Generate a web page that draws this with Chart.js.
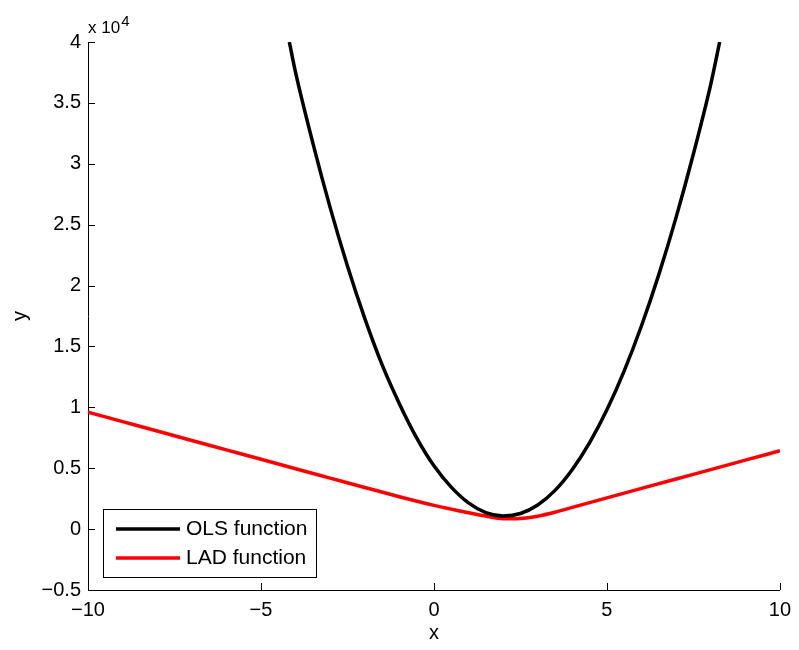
<!DOCTYPE html>
<html>
<head>
<meta charset="utf-8">
<title>OLS vs LAD</title>
<script src="https://cdn.jsdelivr.net/npm/chart.js@4/dist/chart.umd.min.js"></script>
<style>
    body { margin: 0; background: #fff; }
    #wrap { width: 799px; height: 650px; }
</style>
</head>
<body>
<div id="wrap"><canvas id="lossChart" width="799" height="650"></canvas></div>
<script>
// loss curves over the candidate estimate x
const olsX = [-4.18, -4, -3.5, -3, -2.5, -2, -1.5, -1, -0.5, 0, 0.5, 1, 1.5, 2, 2.5, 3, 3.5, 4, 4.5, 5, 5.5, 6, 6.5, 7, 7.5, 8, 8.26];
const olsY = [40000, 37500, 31700, 26400, 21600, 17300, 13500, 10300, 7500, 5200, 3450, 2150, 1350, 1080, 1280, 1980, 3180, 4900, 7100, 9800, 13000, 16700, 20900, 25600, 30800, 36500, 40000];

const ladX = [-10, -9, -8, -7, -6, -5, -4, -3, -2, -1, 0, 0.5, 1, 1.5, 2, 2.5, 3, 3.5, 4, 5, 6, 7, 8, 9, 10];
const ladY = [9600, 8830, 8060, 7280, 6510, 5740, 4960, 4190, 3420, 2660, 1950, 1640, 1340, 1070, 850, 880, 1060, 1380, 1780, 2570, 3350, 4120, 4880, 5660, 6430];

const xTicks = [-10, -5, 0, 5, 10];
const yTicks = [-5000, 0, 5000, 10000, 15000, 20000, 25000, 30000, 35000, 40000];

const FONT = '"Liberation Sans", Arial, Helvetica, sans-serif';
const FSIZE = 20;

function toPoints(xs, ys) {
    return xs.map(function (x, i) { return {x: x, y: ys[i]}; });
}

function tickText(v) {
    let s = String(v);
    return s.replace('-', '\u2212');
}

// inward ticks, exponent note, axis names and the legend box
const decorations = {
    id: 'decorations',
    afterDraw: function (chart) {
        const ctx = chart.ctx;
        const area = chart.chartArea;
        const xs = chart.scales.x, ys = chart.scales.y;
        ctx.save();
        ctx.strokeStyle = '#000';
        ctx.lineWidth = 1;
        ctx.beginPath();
        xTicks.forEach(function (t) {
            const px = Math.round(xs.getPixelForValue(t)) + 0.5;
            ctx.moveTo(px, area.bottom);
            ctx.lineTo(px, area.bottom - 7);
        });
        yTicks.forEach(function (t) {
            const py = Math.round(ys.getPixelForValue(t)) + 0.5;
            ctx.moveTo(area.left, py);
            ctx.lineTo(area.left + 7, py);
        });
        ctx.stroke();

        // "x 10^4" multiplier above the y axis
        ctx.fillStyle = '#000';
        ctx.font = '17px ' + FONT;
        ctx.textAlign = 'left';
        ctx.textBaseline = 'alphabetic';
        ctx.fillText('x 10', 88, 33);
        const w = ctx.measureText('x 10').width;
        ctx.font = '15px ' + FONT;
        ctx.fillText('4', 88 + w + 1, 26);

        ctx.font = FSIZE + 'px ' + FONT;
        ctx.textAlign = 'center';
        ctx.textBaseline = 'middle';
        ctx.fillText('x', (area.left + area.right) / 2, 633);
        ctx.save();
        ctx.translate(20, (area.top + area.bottom) / 2);
        ctx.rotate(-Math.PI / 2);
        ctx.fillText('y', 0, 0);
        ctx.restore();

        // legend
        ctx.fillStyle = '#fff';
        ctx.fillRect(103, 509, 213, 68);
        ctx.strokeStyle = '#000';
        ctx.lineWidth = 1;
        ctx.strokeRect(103.5, 509.5, 213, 68);
        ctx.font = '21px ' + FONT;
        const rows = [['OLS function', '#000', 529], ['LAD function', '#ff0000', 558]];
        rows.forEach(function (r) {
            ctx.strokeStyle = r[1];
            ctx.lineWidth = 3.5;
            ctx.beginPath();
            ctx.moveTo(116, r[2]);
            ctx.lineTo(180, r[2]);
            ctx.stroke();
            ctx.fillStyle = '#000';
            ctx.textAlign = 'left';
            ctx.fillText(r[0], 186, r[2]);
        });
        ctx.restore();
    }
};

new Chart(document.getElementById('lossChart'), {
    type: 'scatter',
    data: {
        datasets: [
            {
                label: 'OLS function',
                data: toPoints(olsX, olsY),
                showLine: true,
                borderColor: '#000',
                borderWidth: 3.5,
                pointRadius: 0,
                cubicInterpolationMode: 'monotone'
            },
            {
                label: 'LAD function',
                data: toPoints(ladX, ladY),
                showLine: true,
                borderColor: '#ff0000',
                borderWidth: 3.5,
                pointRadius: 0,
                cubicInterpolationMode: 'monotone'
            }
        ]
    },
    options: {
        responsive: false,
        animation: false,
        layout: { padding: { top: 42, right: 17, left: 0, bottom: 0 } },
        plugins: { legend: { display: false }, tooltip: { enabled: false } },
        scales: {
            x: {
                type: 'linear',
                min: -10,
                max: 10,
                afterFit: function (s) { s.height = 60; },
                afterBuildTicks: function (s) { s.ticks = xTicks.map(function (v) { return {value: v}; }); },
                grid: { display: false, drawTicks: false },
                border: { display: true, color: '#000', width: 1 },
                ticks: {
                    color: '#000',
                    padding: 8,
                    maxRotation: 0,
                    font: { family: FONT, size: FSIZE },
                    callback: function (v) { return tickText(v); }
                }
            },
            y: {
                type: 'linear',
                min: -5000,
                max: 40000,
                afterFit: function (s) { s.width = 88; },
                afterBuildTicks: function (s) { s.ticks = yTicks.map(function (v) { return {value: v}; }); },
                grid: { display: false, drawTicks: false },
                border: { display: true, color: '#000', width: 1 },
                ticks: {
                    color: '#000',
                    padding: 7,
                    font: { family: FONT, size: FSIZE },
                    callback: function (v) { return tickText(v / 10000); }
                }
            }
        }
    },
    plugins: [decorations]
});
</script>
</body>
</html>
